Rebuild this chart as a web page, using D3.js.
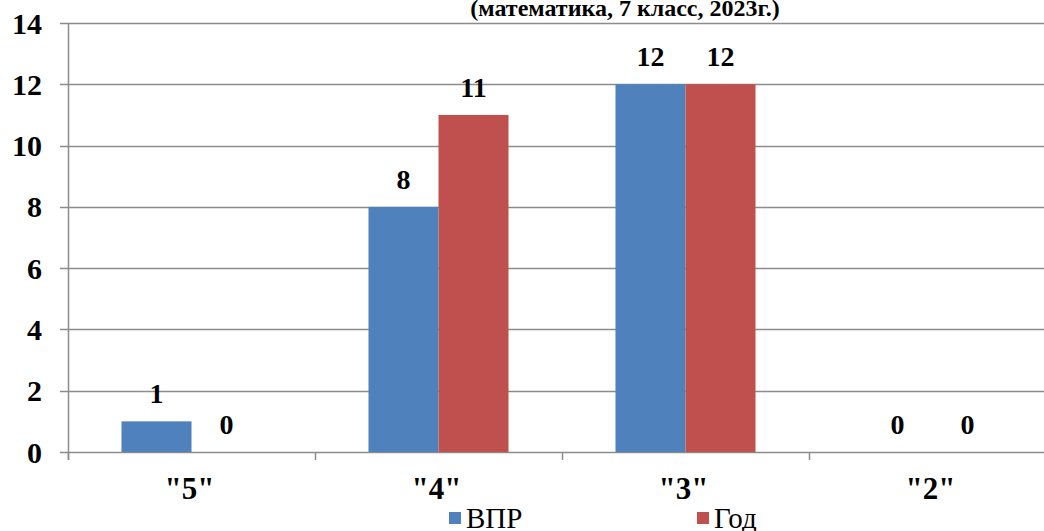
<!DOCTYPE html>
<html>
<head>
<meta charset="utf-8">
<script src="https://cdn.jsdelivr.net/npm/d3@7"></script>
<style>
body { margin: 0; background: #fff; }
svg { display: block; }
svg text { font-family: 'Liberation Serif', 'Times New Roman', serif !important; }
</style>
</head>
<body>
<svg class="canvas" width="1044" height="531" font-family="Liberation Serif"></svg>
<script>
var categories = ['"5"', '"4"', '"3"', '"2"'];
var seriesNames = ["ВПР", "Год"];
var vprValues = [1, 8, 12, 0];
var yearValues = [0, 11, 12, 0];
var yTicks = [0, 2, 4, 6, 8, 10, 12, 14];
var titleText = "(математика, 7 класс, 2023г.)";

var COLORS = ["#4F81BD", "#C0504D"];
var GRID = "#8c8c8c";
var FONT = "'Liberation Serif', 'Times New Roman', serif";

var width = 1044,
	height = 531;

var X0 = 68, BAND = 247;
var Y_TOP = 23, Y_BOT = 452;

var canvas = d3.select(".canvas")
	.attr("width", width)
	.attr("height", height);

var x = d3.scaleBand().domain(categories)
	.range([X0, X0 + BAND * categories.length])
	.paddingInner(0).paddingOuter(0);

var xs = d3.scaleBand().domain(seriesNames)
	.range([0, x.bandwidth()])
	.paddingInner(0).paddingOuter(0.764);

var y = d3.scaleLinear().domain([0, 14]).range([Y_BOT, Y_TOP]);

// every label goes through here so the serif font sticks
function label(sel, size, bold) {
	return sel.attr("font-family", "Liberation Serif")
		.style("font-family", FONT, "important")
		.style("font-size", size + "px")
		.style("font-weight", bold ? "bold" : "normal");
}

// title (top part is cut off in the original)
label(canvas.append("text")
	.attr("x", 625)
	.attr("y", 16)
	.attr("text-anchor", "middle"), 24, true)
	.text(titleText);

// horizontal gridlines
canvas.selectAll("line.grid").data(yTicks)
	.enter().append("line")
	.attr("class", "grid")
	.attr("x1", X0 - 8)
	.attr("x2", width)
	.attr("y1", function(d) { return Math.round(y(d)) + 0.5; })
	.attr("y2", function(d) { return Math.round(y(d)) + 0.5; })
	.attr("stroke", GRID)
	.attr("stroke-width", 1.5);

// y axis line
canvas.append("line")
	.attr("x1", X0 + 0.5).attr("x2", X0 + 0.5)
	.attr("y1", Y_TOP).attr("y2", Y_BOT + 8)
	.attr("stroke", GRID).attr("stroke-width", 1.5);

// x ticks
canvas.selectAll("line.xtick").data(categories)
	.enter().append("line")
	.attr("class", "xtick")
	.attr("x1", function(d) { return x(d) + 0.5; })
	.attr("x2", function(d) { return x(d) + 0.5; })
	.attr("y1", Y_BOT).attr("y2", Y_BOT + 8)
	.attr("stroke", GRID).attr("stroke-width", 1.5);

// y labels
label(canvas.selectAll("text.ylab").data(yTicks)
	.enter().append("text")
	.attr("class", "ylab")
	.attr("x", 42)
	.attr("y", function(d) { return y(d); })
	.attr("dy", ".35em")
	.attr("text-anchor", "end"), 30, true)
	.text(function(d) { return d; });

// category labels
label(canvas.selectAll("text.xlab").data(categories)
	.enter().append("text")
	.attr("class", "xlab")
	.attr("x", function(d) { return x(d) + x.bandwidth() / 2 - 2; })
	.attr("y", 499)
	.attr("text-anchor", "middle"), 31, true)
	.text(function(d) { return d; });

// bars
var series = [vprValues, yearValues];
series.forEach(function(vals, s) {
	var g = canvas.append("g");
	g.selectAll("rect").data(vals)
		.enter().append("rect")
		.attr("x", function(d, i) { return x(categories[i]) + xs(seriesNames[s]); })
		.attr("y", function(d) { return y(d); })
		.attr("width", xs.bandwidth())
		.attr("height", function(d) { return Y_BOT - y(d); })
		.attr("fill", COLORS[s]);
	label(g.selectAll("text").data(vals)
		.enter().append("text")
		.attr("x", function(d, i) { return x(categories[i]) + xs(seriesNames[s]) + xs.bandwidth() / 2; })
		.attr("y", function(d) { return y(d) - 18; })
		.attr("text-anchor", "middle"), 28, true)
		.text(function(d) { return d; });
});

// legend
var legendX = [449, 697];
seriesNames.forEach(function(name, s) {
	canvas.append("rect")
		.attr("x", legendX[s]).attr("y", 512)
		.attr("width", 12).attr("height", 12)
		.attr("fill", COLORS[s]);
	label(canvas.append("text")
		.attr("x", legendX[s] + 17).attr("y", 528), 29, false)
		.text(name);
});
</script>
</body>
</html>
